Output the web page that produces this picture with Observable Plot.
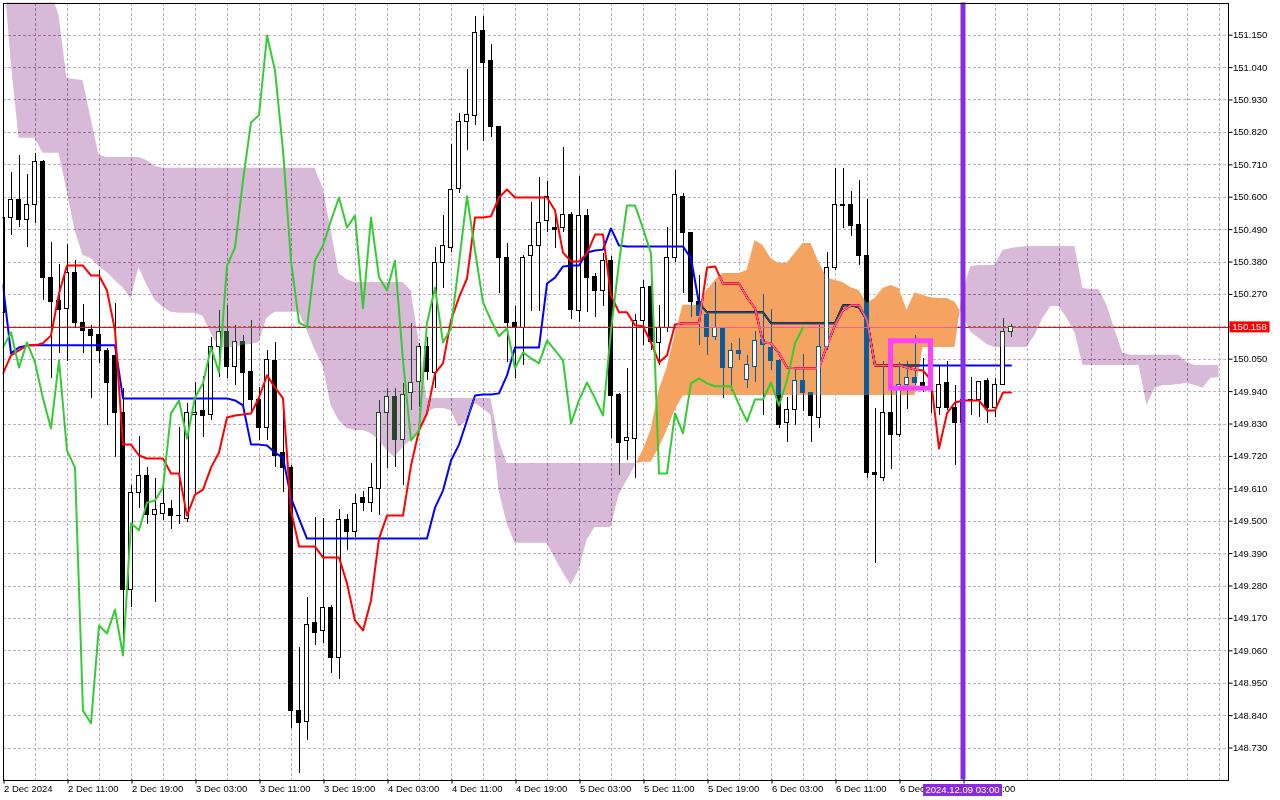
<!DOCTYPE html>
<html><head><meta charset="utf-8">
<script src="https://cdn.jsdelivr.net/npm/d3@7"></script>
<script src="https://cdn.jsdelivr.net/npm/@observablehq/plot@0.6"></script>
<style>html,body{margin:0;padding:0;background:#fff;overflow:hidden}</style>
</head><body><div id="chart"></div>
<script>
// ---- USDJPY H1 candles (bar index 0 = 2 Dec 2024 03:00) ----
const open = [
150.206,150.528,150.592,150.524,150.575,150.718,150.324,150.247,150.219,150.344,
150.172,150.148,150.131,150.077,150.060,149.869,149.265,149.597,149.652,149.522,
149.526,149.543,149.516,149.509,149.862,149.873,149.859,150.090,150.141,150.022,
150.107,150.005,149.913,149.815,150.043,149.730,149.682,148.857,148.817,149.153,
149.126,149.207,149.037,149.505,149.462,149.580,149.563,149.611,149.866,149.920,
149.774,149.934,149.971,150.090,150.002,150.378,150.429,150.627,150.854,150.874,
151.163,151.061,150.837,150.395,150.172,150.155,150.399,150.433,150.518,150.497,
150.494,150.541,150.212,150.535,150.328,150.280,150.385,149.927,149.771,149.778,
150.179,150.294,150.104,150.155,150.395,150.599,150.480,150.243,150.199,150.124,
150.151,150.019,150.077,149.978,150.022,150.114,150.087,150.043,149.832,149.879,
149.975,149.934,149.852,150.090,150.361,150.575,150.572,150.507,150.402,149.662,
149.648,149.866,149.791,149.961,149.985,149.968,149.958,149.886,149.968,149.886,
149.835,149.910,149.910,149.975,149.886,149.964,150.141];
const high = [
150.545,150.684,150.742,150.677,150.749,150.725,150.446,150.371,150.439,150.385,
150.236,150.165,150.351,150.087,150.240,149.951,149.621,149.788,149.682,149.645,
149.621,149.570,149.818,149.900,149.971,149.992,150.124,150.216,150.233,150.165,
150.131,150.182,149.954,150.080,150.107,149.866,149.689,149.071,149.241,149.512,
149.509,149.214,149.539,149.522,149.590,149.601,149.696,149.910,149.951,149.951,
149.968,150.172,150.104,150.124,150.429,150.538,150.779,150.885,151.034,151.214,
151.214,151.119,150.837,150.443,150.229,150.402,150.582,150.667,150.654,150.538,
150.769,150.548,150.670,150.558,150.341,150.409,150.399,149.934,150.019,150.202,
150.317,150.307,150.233,150.497,150.691,150.613,150.480,150.334,150.206,150.310,
150.151,150.104,150.121,150.063,150.145,150.270,150.219,150.049,149.920,150.015,
150.066,149.934,150.165,150.412,150.698,150.698,150.620,150.657,150.592,149.883,
150.043,149.978,150.039,150.043,150.131,150.053,149.968,150.026,150.043,149.961,
149.927,149.988,149.975,149.985,149.985,150.189,150.168];
const low = [
150.189,150.470,150.497,150.429,150.511,150.250,149.985,150.070,150.043,150.158,
150.070,149.917,150.036,149.825,149.716,149.102,149.207,149.543,149.489,149.224,
149.503,149.472,149.489,149.496,149.594,149.784,149.842,149.988,149.985,149.961,
149.876,149.866,149.774,149.774,149.682,149.597,148.797,148.644,148.756,149.078,
149.085,148.983,148.962,149.401,149.445,149.533,149.529,149.519,149.679,149.682,
149.621,149.876,149.886,149.978,149.951,150.290,150.412,150.613,150.759,150.844,
150.789,150.803,150.273,150.039,149.985,150.029,150.213,150.213,150.480,150.426,
150.480,150.185,150.175,150.209,150.192,150.229,149.781,149.655,149.706,149.645,
150.097,150.080,150.029,150.141,150.378,150.273,150.192,150.097,150.063,150.114,
149.917,149.941,150.046,149.951,149.971,149.859,150.012,149.815,149.767,149.825,
149.873,149.767,149.815,150.080,150.351,150.494,150.467,150.368,149.645,149.357,
149.635,149.675,149.784,149.879,149.961,149.937,149.866,149.859,149.876,149.689,
149.825,149.859,149.852,149.832,149.852,149.961,150.124];
const close = [
150.531,150.592,150.524,150.572,150.718,150.324,150.243,150.216,150.344,150.172,
150.145,150.128,150.077,149.968,149.869,149.265,149.597,149.652,149.522,149.539,
149.560,149.519,149.518,149.866,149.869,149.856,150.090,150.141,150.022,150.107,
150.002,149.913,149.815,150.046,149.723,149.682,148.857,148.814,149.149,149.119,
149.204,149.037,149.505,149.462,149.560,149.563,149.614,149.866,149.920,149.774,
149.930,149.968,150.090,150.005,150.375,150.433,150.626,150.854,150.878,151.159,
151.057,150.840,150.392,150.172,150.155,150.395,150.433,150.514,150.599,150.490,
150.541,150.216,150.535,150.327,150.280,150.385,149.924,149.767,149.781,150.179,
150.293,150.107,150.155,150.395,150.606,150.477,150.243,150.196,150.124,150.155,
150.019,150.077,150.066,150.032,150.111,150.097,150.043,149.825,149.876,149.975,
149.934,149.856,150.090,150.361,150.572,150.569,150.501,150.399,149.662,149.658,
149.866,149.794,149.961,149.985,149.968,149.958,149.951,149.964,149.886,149.835,
149.913,149.911,149.971,149.886,149.964,150.141,150.158];

// ---- Ichimoku lines ----
const tenkan = [
150.002,150.063,150.080,150.097,150.097,150.104,150.131,150.273,150.368,150.368,
150.368,150.334,150.334,150.283,150.148,149.760,149.760,149.723,149.713,149.713,
149.713,149.662,149.662,149.519,149.590,149.607,149.682,149.733,149.852,149.859,
149.862,149.866,149.920,149.995,149.954,149.917,149.536,149.414,149.414,149.414,
149.377,149.377,149.377,149.289,149.163,149.129,149.231,149.441,149.519,149.519,
149.519,149.689,149.808,149.866,150.002,150.036,150.182,150.260,150.324,150.531,
150.531,150.535,150.599,150.626,150.599,150.599,150.599,150.599,150.599,150.555,
150.412,150.382,150.382,150.409,150.473,150.473,150.267,150.209,150.209,150.165,
150.162,150.107,150.039,150.063,150.168,150.172,150.172,150.172,150.361,150.365,
150.307,150.307,150.307,150.260,150.223,150.107,150.104,150.070,150.022,150.019,
150.019,150.019,150.019,150.097,150.165,150.216,150.233,150.233,150.182,150.029,
150.029,150.029,150.029,150.022,150.015,150.012,149.978,149.747,149.866,149.903,
149.910,149.910,149.910,149.876,149.876,149.937,149.937];
const kijun = [
150.300,150.070,150.090,150.097,150.097,150.097,150.097,150.097,150.097,150.097,
150.097,150.097,150.097,150.097,150.097,149.917,149.917,149.917,149.917,149.917,
149.917,149.917,149.917,149.917,149.917,149.917,149.917,149.917,149.917,149.910,
149.893,149.760,149.760,149.757,149.733,149.716,149.580,149.509,149.441,149.441,
149.441,149.441,149.441,149.441,149.441,149.441,149.441,149.441,149.441,149.441,
149.441,149.441,149.441,149.441,149.546,149.604,149.706,149.760,149.842,149.927,
149.930,149.930,149.934,149.995,150.090,150.090,150.090,150.090,150.307,150.327,
150.365,150.368,150.368,150.412,150.419,150.422,150.494,150.436,150.433,150.433,
150.433,150.433,150.433,150.433,150.433,150.433,150.392,150.240,150.209,150.209,
150.209,150.209,150.209,150.209,150.209,150.209,150.172,150.172,150.172,150.172,
150.172,150.172,150.172,150.172,150.172,150.233,150.233,150.226,150.182,150.029,
150.029,150.029,150.029,150.029,150.029,150.029,150.029,150.029,150.029,150.029,
150.029,150.029,150.029,150.029,150.029,150.029,150.029];
const chikou = [
150.090,150.141,150.022,150.107,150.039,149.917,149.815,150.046,149.740,149.682,
148.857,148.814,149.146,149.119,149.200,149.044,149.493,149.469,149.563,149.570,
149.614,149.866,149.910,149.781,149.920,149.968,150.090,150.005,150.368,150.429,
150.657,150.854,150.878,151.149,151.030,150.759,150.385,150.175,150.158,150.385,
150.436,150.521,150.599,150.497,150.538,150.223,150.531,150.328,150.283,150.385,
150.046,149.774,149.808,150.172,150.293,150.107,150.155,150.378,150.603,150.419,
150.243,150.182,150.128,150.155,150.019,150.073,150.053,150.036,150.114,150.080,
150.046,149.832,149.910,149.971,149.917,149.859,150.148,150.378,150.572,150.572,
150.494,150.409,149.662,149.662,149.866,149.798,149.968,149.985,149.968,149.958,
149.958,149.958,149.896,149.839,149.913,149.913,149.971,149.893,149.978,150.104,
150.158];
const senkouA = [
151.404,151.064,150.800,150.800,150.800,150.749,150.749,150.749,150.623,150.487,
150.402,150.392,150.365,150.344,150.317,150.293,150.256,150.361,150.300,150.250,
150.226,150.209,150.206,150.206,150.206,150.196,150.138,150.090,150.090,150.090,
150.097,150.100,150.107,150.189,150.209,150.209,150.209,150.209,150.148,150.080,
150.029,149.893,149.842,149.815,149.808,149.808,149.798,149.774,149.740,149.716,
149.750,149.774,149.801,149.869,149.883,149.883,149.876,149.818,149.842,149.900,
149.883,149.859,149.604,149.493,149.425,149.425,149.425,149.425,149.425,149.374,
149.326,149.282,149.333,149.435,149.479,149.479,149.479,149.587,149.638,149.686,
149.740,149.808,149.944,150.019,150.131,150.233,150.233,150.233,150.283,150.317,
150.341,150.341,150.341,150.351,150.453,150.436,150.392,150.375,150.375,150.409,
150.443,150.443,150.378,150.327,150.317,150.310,150.293,150.283,150.240,150.256,
150.290,150.300,150.290,150.216,150.276,150.266,150.259,150.256,150.256,150.243,
150.199,150.141,150.121,150.100,150.090,150.090,150.090,150.090,150.090,150.131,
150.189,150.229,150.229,150.189,150.138,150.029,150.029,150.029,150.029,150.029,
150.029,150.029,150.029,149.893,149.951,149.961,149.961,149.964,149.968,149.961,
149.951,149.985,149.988];
const senkouB = [
151.450,151.450,151.450,151.450,151.450,151.450,151.300,151.217,151.003,151.000,
150.996,150.868,150.742,150.735,150.735,150.735,150.735,150.735,150.725,150.705,
150.698,150.698,150.698,150.698,150.698,150.698,150.698,150.698,150.698,150.698,
150.698,150.698,150.698,150.698,150.698,150.698,150.698,150.698,150.698,150.698,
150.630,150.490,150.341,150.320,150.310,150.310,150.310,150.310,150.310,150.310,
150.310,150.283,150.114,149.917,149.917,149.917,149.917,149.917,149.917,149.917,
149.917,149.917,149.774,149.696,149.696,149.696,149.696,149.696,149.696,149.696,
149.696,149.696,149.696,149.696,149.696,149.696,149.696,149.696,149.696,149.696,
149.700,149.700,149.747,149.808,149.876,149.924,149.927,149.927,149.927,149.927,
149.927,149.927,149.927,149.927,149.927,149.927,149.927,149.927,149.927,149.927,
149.927,149.927,149.927,149.927,149.927,149.927,149.927,149.927,149.927,149.927,
149.927,149.927,149.927,149.927,149.927,150.090,150.090,150.090,150.090,150.090,
150.283,150.365,150.368,150.368,150.368,150.419,150.426,150.429,150.433,150.433,
150.433,150.433,150.433,150.433,150.433,150.290,150.287,150.287,150.233,150.148,
150.070,150.063,150.063,150.063,150.063,150.063,150.063,150.063,150.039,150.029,
150.029,150.029,150.029];

// ---- axes / annotations ----
const priceTicks = [151.150,151.040,150.930,150.820,150.710,150.600,150.490,150.380,150.270,150.160,150.050,149.940,149.830,149.720,149.610,149.500,149.390,149.280,149.170,149.060,148.950,148.840,148.730];
const timeTickBars = [0,8,16,24,32,40,48,56,64,72,80,88,96,104,112,120];
const timeTickLabels = ["2 Dec 2024","2 Dec 11:00","2 Dec 19:00","3 Dec 03:00","3 Dec 11:00","3 Dec 19:00","4 Dec 03:00","4 Dec 11:00","4 Dec 19:00","5 Dec 03:00","5 Dec 11:00","5 Dec 19:00","6 Dec 03:00","6 Dec 11:00","6 Dec 19:00","9 Dec 03:00"];
const gridBars = d3.range(0, 153, 4);
const currentPrice = 150.158;
const cursorBar = 120;
const cursorLabel = "2024.12.09 03:00";
const boxBars = [111, 116];
const boxPrices = [149.950, 150.111];

// ---- derived tables ----
const candles = open.map((o, i) => ({i, o, h: high[i], l: low[i], c: close[i]}));
const series = arr => arr.map((v, i) => ({i, v}));
const cloud = senkouA.map((a, i) => ({i, a, b: senkouB[i], top: Math.max(a, senkouB[i])}));
// outline of the kumo, split where the two spans cross so the two colours do not overlap
const cloudPath = [];
cloud.forEach((d, k) => {
  if (k > 0) {
    const p = cloud[k - 1], d0 = p.a - p.b, d1 = d.a - d.b;
    if (d0 * d1 < 0) {
      const t = d0 / (d0 - d1), v = p.a + t * (d.a - p.a);
      cloudPath.push({i: p.i + t, a: v, b: v, top: v});
    }
  }
  cloudPath.push(d);
});
const bull = candles.filter(d => d.c >= d.o);
const bear = candles.filter(d => d.c < d.o);
const bullInCloud = bull.filter(d => {
  const cl = cloud[d.i]; const lo = Math.min(cl.a, cl.b), hi = Math.max(cl.a, cl.b);
  return d.c > lo && d.o < hi;
});
const box = [{x1: boxBars[0], x2: boxBars[1], y1: boxPrices[0], y2: boxPrices[1]}];

const gridColor = "#c0b0c0";
const plot = Plot.plot({
  width: 1280, height: 800,
  marginLeft: 2.5, marginRight: 52.5, marginTop: 2.5, marginBottom: 20.5,
  x: {domain: [0, 153.125]},
  y: {domain: [148.6214, 151.2593]},
  style: {fontFamily: "'Liberation Sans', Arial, sans-serif", fontSize: "9.5px", background: "white", color: "black"},
  marks: [
    Plot.frame({fill: "white"}),
    Plot.ruleX(gridBars, {stroke: gridColor, strokeDasharray: "3,2", shapeRendering: "crispEdges"}),
    Plot.ruleY(priceTicks, {stroke: gridColor, strokeDasharray: "3,2", shapeRendering: "crispEdges"}),
    // blank the grid where the bullish (sandy) cloud lies
    Plot.areaY(cloudPath, {x: "i", y1: "b", y2: "top", fill: "white", clip: true}),
    // candles
    Plot.ruleX(candles, {x: "i", y1: "l", y2: "h", stroke: "black", strokeWidth: 1, clip: true, shapeRendering: "crispEdges"}),
    Plot.rect(bull, {x1: d => d.i - 0.25, x2: d => d.i + 0.25, y1: "o", y2: "c", fill: "white", stroke: "black", strokeWidth: 1, clip: true, shapeRendering: "crispEdges"}),
    Plot.rect(bear, {x1: d => d.i - 0.25, x2: d => d.i + 0.25, y1: "o", y2: "c", fill: "black", stroke: "black", strokeWidth: 1, clip: true, shapeRendering: "crispEdges"}),
    // tenkan / kijun / current price
    Plot.ruleY([currentPrice], {stroke: "#ff0000", strokeWidth: 1, shapeRendering: "crispEdges"}),
    Plot.line(series(kijun), {x: "i", y: "v", stroke: "#0000ff", strokeWidth: 2, clip: true}),
    Plot.line(series(tenkan), {x: "i", y: "v", stroke: "#ff0000", strokeWidth: 2, clip: true}),
    // kumo (inverted colours + difference blend, like the terminal's rendering)
    Plot.areaY(cloudPath, {x: "i", y1: "b", y2: "top", fill: "#0b5b9f", clip: true}),
    Plot.areaY(cloudPath, {x: "i", y1: "a", y2: "top", fill: "#274527", clip: true}),
    Plot.rect(bullInCloud, {x1: d => d.i - 0.25, x2: d => d.i + 0.25, y1: "o", y2: "c", inset: 0.5, fill: "white", clip: true, shapeRendering: "crispEdges"}),
    // chikou
    Plot.line(series(chikou), {x: "i", y: "v", stroke: "#33cc33", strokeWidth: 2, clip: true}),
    // chart objects
    Plot.rect(box, {x1: "x1", x2: "x2", y1: "y1", y2: "y2", fill: "none", stroke: "#ff40ff", strokeWidth: 5}),
    Plot.ruleX([cursorBar], {stroke: "#8a2be2", strokeWidth: 5}),
    Plot.frame({stroke: "black", shapeRendering: "crispEdges"}),
    Plot.axisY({anchor: "right", ticks: priceTicks, tickFormat: d => d.toFixed(3), tickSize: 4, tickPadding: 1, label: null, fill: "black", stroke: "black"}),
    Plot.axisX({anchor: "bottom", ticks: timeTickBars, tickFormat: d => timeTickLabels[timeTickBars.indexOf(d)], tickSize: 4, tickPadding: 1, textAnchor: "start", dx: 1, label: null, fill: "black", stroke: "black"})
  ]
});

const xs = plot.scale("x"), ys = plot.scale("y");
// make sure each cloud layer has its path (drawn with the plot's own scales if the mark came out empty)
const areaGroups = Array.from(plot.querySelectorAll('g[aria-label="area"]'));
const areaSpecs = [
  {lower: d => d.b, fill: "white", blend: false},
  {lower: d => d.b, fill: "#0b5b9f", blend: true},
  {lower: d => d.a, fill: "#274527", blend: true}
];
areaGroups.forEach((g, k) => {
  const spec = areaSpecs[k]; if (!spec) return;
  const p = g.querySelector("path");
  if (!p || !(p.getAttribute("d") || "").length) {
    const gen = d3.area().x(d => xs.apply(d.i)).y0(d => ys.apply(spec.lower(d))).y1(d => ys.apply(d.top));
    d3.select(g).selectAll("*").remove();
    d3.select(g).append("path").attr("d", gen(cloudPath)).attr("fill", spec.fill).attr("stroke", "none");
  }
  if (spec.blend) g.style.mixBlendMode = "difference";
});

const svg = d3.select(plot);
const py = ys.apply(currentPrice);
const rightEdge = xs.apply(xs.domain[1]);
svg.append("rect").attr("x", rightEdge + 2).attr("y", py - 5.5).attr("width", 40).attr("height", 11).attr("fill", "#ff0000");
svg.append("text").attr("x", rightEdge + 22).attr("y", py).attr("dy", "0.35em").attr("text-anchor", "middle").attr("fill", "white").text(currentPrice.toFixed(3));
const px = xs.apply(cursorBar);
svg.append("rect").attr("x", px - 39.5).attr("y", 784).attr("width", 79).attr("height", 12).attr("fill", "#8a2be2");
svg.append("text").attr("x", px).attr("y", 790).attr("dy", "0.35em").attr("text-anchor", "middle").attr("fill", "white").text(cursorLabel);

document.getElementById("chart").appendChild(plot);
</script>
</body></html>
